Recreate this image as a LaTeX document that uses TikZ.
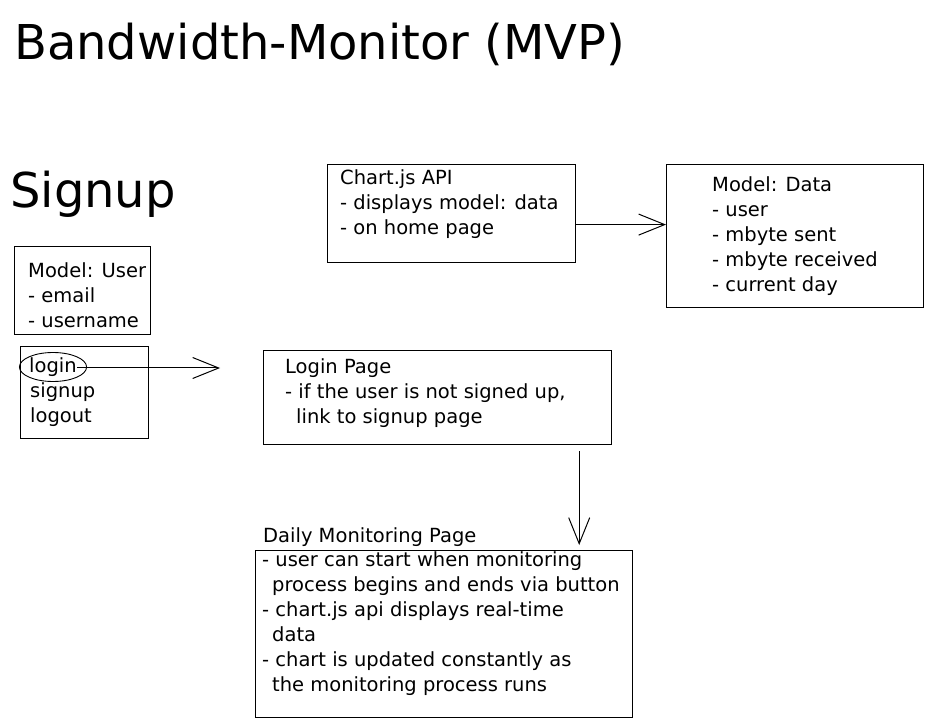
\documentclass[tikz,border=0pt]{standalone}
\usepackage{fontspec}
\setmainfont{DejaVu Sans}
\usetikzlibrary{positioning}
\usetikzlibrary{shapes.geometric}
\usetikzlibrary{arrows.meta}

\tikzset{
  box/.style={draw, line width=1.2pt, rectangle, anchor=north west, inner sep=0pt},
  note/.style={anchor=north west, align=left, inner sep=0pt, font=\fontsize{19.5}{25}\selectfont},
  big/.style={anchor=base west, inner sep=0pt, font=\fontsize{48}{58}\selectfont},
  circ/.style={ellipse, draw, line width=0.9pt, minimum width=63pt, minimum height=29pt, inner sep=0pt, font=\fontsize{19.5}{25}\selectfont},
  arr/.style={line width=1pt, -{Straight Barb[length=26pt, width=21pt]}},
}

\begin{document}
\begin{tikzpicture}[x=1pt, y=-1pt]
    \useasboundingbox (0,0) rectangle (935,727);

    % headings
    \node[big] (title) at (14,60) {Bandwidth-Monitor (MVP)};
    \node[big] (signup) at (10,208) {Signup};

    % boxes
    \node[box, minimum width=136pt, minimum height=88pt] (userbox) at (14,246) {};
    \node[box, minimum width=128pt, minimum height=92pt] (menubox) at (20,346) {};
    \node[box, minimum width=248pt, minimum height=98pt] (chartbox) at (327,164) {};
    \node[box, minimum width=257pt, minimum height=143pt] (databox) at (666,164) {};
    \node[box, minimum width=348pt, minimum height=94pt] (loginbox) at (263,350) {};
    \node[box, minimum width=377pt, minimum height=167pt] (dailybox) at (255,550) {};

    % texts
    \node[note] (usertext) at (28,259.5) {\strut Model: User\\- email\\- username};
    \node[circ] (login) at (53,367) {login};
    \node[note] (menutext) at (30,379.5) {\strut signup\\logout};
    \node[note] (charttext) at (340,167) {\strut Chart.js API\\- displays model: data\\- on home page};
    \node[note] (datatext) at (712,173.5) {\strut Model: Data\\- user\\- mbyte sent\\- mbyte received\\- current day};
    \node[note] (logintext) at (285,355.5) {\strut Login Page\\- if the user is not signed up,\\\hspace*{11pt}link to signup page};
    \node[note] (dailytitle) at (263,524.5) {\strut Daily Monitoring Page};
    \node[note] (dailytext) at (262,549) {\strut - user can start when monitoring\\\hspace*{10pt}process begins and ends via button\\- chart.js api displays real-time\\\hspace*{10pt}data\\- chart is updated constantly as\\\hspace*{10pt}the monitoring process runs};

    % arrows
    \coordinate (menuarrow) at (220,368);
    \draw[arr] ([xshift=-10pt,yshift=-1pt]login.east) -- (menuarrow);

    \coordinate (c1) at ([yshift=-11pt]chartbox.east);
    \draw[arr] (c1) -- (c1 -| databox.west);

    \coordinate (c2) at ([xshift=-33pt,yshift=-6pt]loginbox.south east);
    \draw[arr, shorten >=5pt] (c2) -- (c2 |- dailybox.north);
\end{tikzpicture}
\end{document}
